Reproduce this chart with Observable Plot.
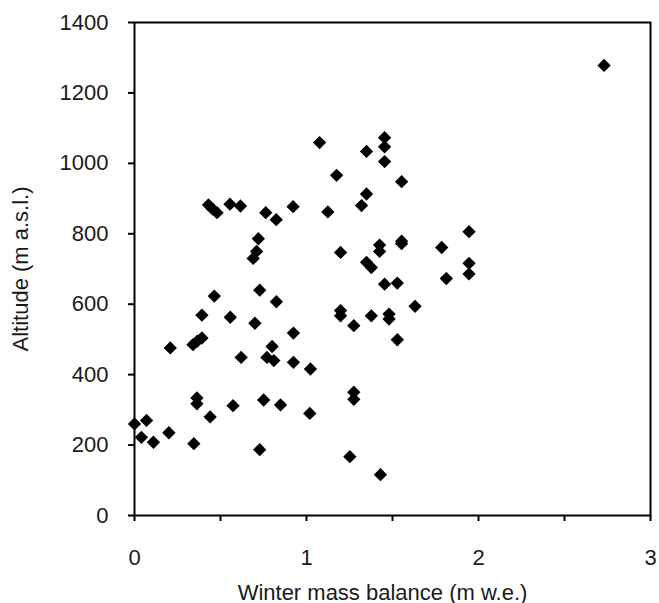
<!DOCTYPE html>
<html>
<head>
<meta charset="utf-8">
<script src="https://cdn.jsdelivr.net/npm/d3@7"></script>
<script src="https://cdn.jsdelivr.net/npm/@observablehq/plot@0.6"></script>
<style>
  html, body { margin: 0; padding: 0; background: #fff; }
</style>
</head>
<body>
<div id="chart"></div>
<script>
const winterBalance = [
  0.00, 0.07, 0.04, 0.11, 0.20, 0.345, 0.363, 0.363, 0.44, 0.573, 0.751, 0.849, 0.728, 1.019, 1.275, 1.275, 1.252, 1.43,
  0.208, 0.34, 0.365, 0.392, 0.62, 0.80, 0.77, 0.81, 0.924, 1.023,
  0.392, 0.557, 0.70, 0.924, 0.464, 0.728, 0.825,
  1.198, 1.198, 1.275, 1.377, 1.48, 1.48, 1.631, 1.528, 1.454, 1.528, 1.813, 1.945, 1.945, 1.349, 1.377, 1.198, 1.425, 1.425, 1.786, 1.553, 1.553, 1.945,
  0.72, 0.71, 0.69,
  0.763, 0.824, 0.922, 1.124, 1.32, 1.349, 1.553, 1.175, 1.349, 1.454, 1.454, 1.454, 1.076,
  0.43, 0.455, 0.48, 0.555, 0.616,
  2.73
];
const altitude = [
  260, 270, 222, 208, 235, 204, 334, 317, 280, 312, 328, 314, 187, 290, 350, 330, 167, 116,
  476, 485, 495, 504, 449, 480, 449, 440, 435, 416,
  569, 563, 546, 518, 623, 640, 607,
  582, 567, 539, 567, 572, 558, 594, 499, 657, 660, 673, 686, 716, 719, 704, 747, 768, 750, 761, 779, 772, 806,
  786, 750, 730,
  860, 840, 877, 862, 880, 913, 948, 966, 1034, 1073, 1047, 1005, 1059,
  882, 870, 860, 884, 879,
  1278
];
const xTicks = [0, 0.5, 1, 1.5, 2, 2.5, 3];
const yTicks = [0, 200, 400, 600, 800, 1000, 1200, 1400];
const xLabel = "Winter mass balance (m w.e.)";
const yLabel = "Altitude (m a.s.l.)";

const data = winterBalance.map((x, i) => ({x, y: altitude[i]}));

const chart = Plot.plot({
  width: 659,
  height: 603,
  marginLeft: 134,
  marginRight: 9,
  marginTop: 22,
  marginBottom: 88,
  x: {domain: [0, 3]},
  y: {domain: [0, 1400]},
  style: {fontFamily: "'Liberation Sans', Arial, sans-serif", fontSize: "22px", color: "#1a1a1a", background: "#fff"},
  marks: [
    Plot.frame({stroke: "#000", strokeWidth: 2}),
    Plot.axisY({
      ticks: yTicks, tickFormat: d => String(d), tickSize: 6, tickPadding: 20, strokeWidth: 2, stroke: "#000",
      label: yLabel, labelAnchor: "center", labelArrow: "none", labelOffset: 122, fontSize: 22
    }),
    Plot.axisX({
      ticks: xTicks, tickFormat: d => Number.isInteger(d) ? String(d) : "",
      tickSize: 6, tickPadding: 28, strokeWidth: 2, stroke: "#000",
      label: null, fontSize: 22
    }),
    Plot.text([xLabel], {
      text: d => d, frameAnchor: "bottom", lineAnchor: "bottom", dy: 84, dx: -10,
      fontSize: 22, fill: "#1a1a1a"
    }),
    Plot.dot(data, {x: "x", y: "y", symbol: "diamond2", r: 6, fill: "#000", stroke: "none"})
  ]
});
document.getElementById("chart").appendChild(chart);
</script>
</body>
</html>
